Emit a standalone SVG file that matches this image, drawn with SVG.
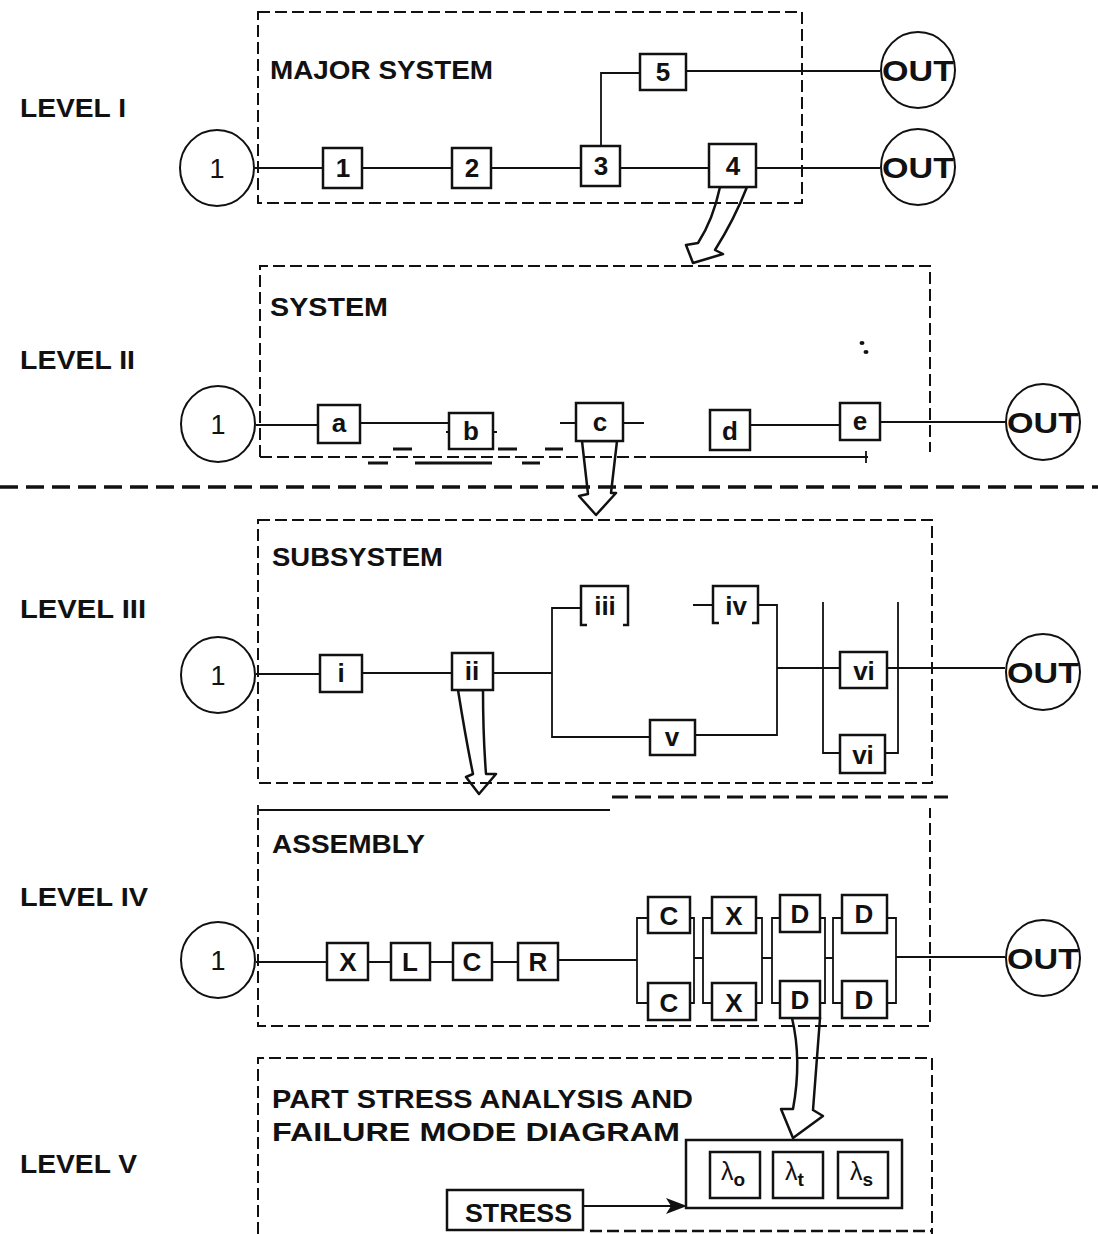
<svg xmlns="http://www.w3.org/2000/svg" width="1098" height="1234" viewBox="0 0 1098 1234">
<defs>
<style>
.t{font-family:"Liberation Sans",Arial,sans-serif;font-weight:bold;fill:#111}
.lvl{font-size:25px}
.ttl{font-size:25px}
.bl{font-size:26px;text-anchor:middle}
.cl{font-family:"Liberation Sans",Arial,sans-serif;font-size:27px;text-anchor:middle;fill:#111}
.out{font-family:"Liberation Sans",Arial,sans-serif;font-weight:bold;font-size:30px;fill:#111}
.box{fill:#fff;stroke:#111;stroke-width:2.5}
.circ{fill:#fff;stroke:#111;stroke-width:2}
.ln{fill:none;stroke:#111;stroke-width:1.8}
.frame{fill:none;stroke:#111;stroke-width:2;stroke-dasharray:12 5}
.arr{fill:#fff;stroke:#111;stroke-width:2.5;stroke-linejoin:round}
.art{stroke:#111;stroke-width:3}
</style>
</defs>
<rect width="1098" height="1234" fill="#fff"/>

<!-- hollow arrows (drawn below frames) -->
<g id="hollow-arrows">
<path class="arr" d="M720,187 Q713,220 698,243 L686,245 L693,263 L723,254 L715,250 Q734,220 747,187 Z"/>
<path class="arr" d="M582,441 L588,494 L579,496 L596,515 L616,493 L611,493 L617,441 Z"/>
<path class="arr" d="M458,690 Q466,740 473,774 L466,777 L479,794 L496,774 L486,774 Q483,735 483,690 Z"/>
<path class="arr" d="M792,1018 Q802,1060 793,1109 L781,1109 L793,1138 L823,1116 L813,1110 Q817,1060 820,1018 Z"/>
</g>

<!-- frames -->
<g id="frames">
<rect class="frame" x="258" y="12" width="544" height="191"/>
<path class="frame" d="M260,457 L260,266 L930,266 L930,452"/>
<path class="frame" d="M260,457 L650,457"/>
<path class="ln" d="M650,457 L868,457 M866,451 L866,463"/>
<path class="art" d="M393,449 H412 M498,449 H517 M545,449 H563 M368,463 H388 M415,463 H492 M522,463 H540"/>
<ellipse cx="862" cy="343" rx="2.5" ry="2" fill="#111"/>
<ellipse cx="866" cy="352" rx="2.5" ry="2" fill="#111"/>
<line x1="0" y1="487" x2="1098" y2="487" stroke="#111" stroke-width="3.5" stroke-dasharray="18 8"/>
<rect class="frame" x="258" y="520" width="674" height="263"/>
<path class="ln" d="M258,810 L610,810 M258,805 L258,815" stroke-width="2.5"/>
<line x1="612" y1="797" x2="948" y2="797" stroke="#111" stroke-width="3" stroke-dasharray="16 7"/>
<path class="frame" d="M258,818 L258,1026 L930,1026 L930,808"/>
<path class="frame" d="M258,1234 L258,1058 L932,1058 L932,1234"/>
<line x1="590" y1="1231" x2="932" y2="1231" stroke="#111" stroke-width="2.5" stroke-dasharray="12 5"/>
</g>

<!-- labels -->
<g id="labels">
<text class="t lvl" x="20" y="117" textLength="106" lengthAdjust="spacingAndGlyphs">LEVEL I</text>
<text class="t lvl" x="20" y="369" textLength="115" lengthAdjust="spacingAndGlyphs">LEVEL II</text>
<text class="t lvl" x="20" y="618" textLength="126" lengthAdjust="spacingAndGlyphs">LEVEL III</text>
<text class="t lvl" x="20" y="906" textLength="128" lengthAdjust="spacingAndGlyphs">LEVEL IV</text>
<text class="t lvl" x="20" y="1173" textLength="117" lengthAdjust="spacingAndGlyphs">LEVEL V</text>
<text class="t ttl" x="270" y="79" textLength="223" lengthAdjust="spacingAndGlyphs">MAJOR SYSTEM</text>
<text class="t ttl" x="270" y="316" textLength="118" lengthAdjust="spacingAndGlyphs">SYSTEM</text>
<text class="t ttl" x="272" y="566" textLength="171" lengthAdjust="spacingAndGlyphs">SUBSYSTEM</text>
<text class="t ttl" x="272" y="853" textLength="153" lengthAdjust="spacingAndGlyphs">ASSEMBLY</text>
<text class="t ttl" x="272" y="1108" textLength="421" lengthAdjust="spacingAndGlyphs">PART STRESS ANALYSIS AND</text>
<text class="t ttl" x="272" y="1141" textLength="408" lengthAdjust="spacingAndGlyphs">FAILURE MODE DIAGRAM</text>
</g>

<!-- connectors -->
<g id="connectors">
<!-- level I -->
<path class="ln" d="M255,168 H323 M362,168 H452 M491,168 H581 M620,168 H709 M756,168 H880"/>
<path class="ln" d="M601,146 V73 H640 M686,71 H880"/>
<!-- level II -->
<path class="ln" d="M256,425 H318 M360,423 H449 M446,432 H449 M493,432 H497 M560,423 H576 M623,423 H644 M750,425 H840 M880,422 H1005"/>
<!-- level III -->
<path class="ln" d="M256,674 H320 M362,673 H452 M493,673 H552"/>
<path class="ln" d="M581,608 H552 V737 H650 M695,735 H777 V605 H758 M693,605 H713"/>
<path class="ln" d="M777,668 H840 M887,668 H1005"/>
<path class="ln" d="M823,602 V753 H840 M898,602 V753 H885"/>
<!-- level IV -->
<path class="ln" d="M256,962 H327 M368,962 H391 M430,962 H453 M492,962 H518 M558,960 H637"/>
<path class="ln" d="M648,918 H637 V1003 H648 M690,918 H694 V1003 H690 M694,958 H703"/>
<path class="ln" d="M712,918 H703 V1003 H712 M756,918 H762 V1003 H756 M762,958 H772"/>
<path class="ln" d="M780,918 H772 V1003 H780 M820,918 H825 V1003 H820 M825,958 H833"/>
<path class="ln" d="M842,918 H833 V1003 H842 M887,918 H896 V1003 H887 M896,957 H1005"/>
<!-- level V -->
<path class="ln" d="M686,1178 H710 M760,1178 H773 M823,1178 H838 M888,1178 H902"/>
<line x1="583" y1="1206" x2="672" y2="1206" stroke="#111" stroke-width="2"/>
<path d="M666,1198 L687,1206 L666,1214 L671,1206 Z" fill="#111"/>
</g>

<!-- level I nodes -->
<g id="L1-in"><ellipse class="circ" cx="217" cy="168" rx="37" ry="38"/><text class="cl" x="217" y="178">1</text></g>
<g id="L1-b1"><rect class="box" x="323" y="148" width="39" height="40"/><text class="t bl" x="343" y="177">1</text></g>
<g id="L1-b2"><rect class="box" x="452" y="148" width="39" height="40"/><text class="t bl" x="472" y="177">2</text></g>
<g id="L1-b3"><rect class="box" x="581" y="146" width="39" height="40"/><text class="t bl" x="601" y="175">3</text></g>
<g id="L1-b4"><rect class="box" x="709" y="144" width="47" height="43"/><text class="t bl" x="733" y="175">4</text></g>
<g id="L1-b5"><rect class="box" x="640" y="54" width="46" height="36"/><text class="t bl" x="663" y="81">5</text></g>
<g id="L1-out1"><ellipse class="circ" cx="918" cy="70" rx="37" ry="38"/><text class="out" x="882" y="81" textLength="72" lengthAdjust="spacingAndGlyphs">OUT</text></g>
<g id="L1-out2"><ellipse class="circ" cx="918" cy="167" rx="37" ry="38"/><text class="out" x="882" y="178" textLength="72" lengthAdjust="spacingAndGlyphs">OUT</text></g>

<!-- level II nodes -->
<g id="L2-in"><ellipse class="circ" cx="218" cy="424" rx="37" ry="38"/><text class="cl" x="218" y="434">1</text></g>
<g id="L2-a"><rect class="box" x="318" y="405" width="42" height="38"/><text class="t bl" x="339" y="432">a</text></g>
<g id="L2-b"><rect class="box" x="449" y="413" width="44" height="36"/><text class="t bl" x="471" y="440">b</text></g>
<g id="L2-c"><rect class="box" x="576" y="403" width="47" height="38"/><text class="t bl" x="600" y="431">c</text></g>
<g id="L2-d"><rect class="box" x="710" y="410" width="40" height="40"/><text class="t bl" x="730" y="440">d</text></g>
<g id="L2-e"><rect class="box" x="840" y="403" width="40" height="37"/><text class="t bl" x="860" y="430">e</text></g>
<g id="L2-out"><ellipse class="circ" cx="1043" cy="422" rx="37" ry="38"/><text class="out" x="1007" y="433" textLength="72" lengthAdjust="spacingAndGlyphs">OUT</text></g>

<!-- level III nodes -->
<g id="L3-in"><ellipse class="circ" cx="218" cy="675" rx="37" ry="38"/><text class="cl" x="218" y="685">1</text></g>
<g id="L3-i"><rect class="box" x="320" y="655" width="42" height="37"/><text class="t bl" x="341" y="682">i</text></g>
<g id="L3-ii"><rect class="box" x="452" y="653" width="41" height="37"/><text class="t bl" x="472" y="680">ii</text></g>
<g id="L3-iii"><path class="box" fill="none" d="M587,625 H581 V586 H628 V625 H623"/><text class="t bl" x="605" y="615">iii</text></g>
<g id="L3-iv"><path class="box" fill="none" d="M719,623 H713 V586 H758 V623 H752"/><text class="t bl" x="736" y="615">iv</text></g>
<g id="L3-v"><rect class="box" x="650" y="720" width="45" height="35"/><text class="t bl" x="672" y="746">v</text></g>
<g id="L3-vi1"><rect class="box" x="840" y="652" width="47" height="36"/><text class="t bl" x="864" y="680">vi</text></g>
<g id="L3-vi2"><rect class="box" x="840" y="735" width="45" height="38"/><text class="t bl" x="863" y="764">vi</text></g>
<g id="L3-out"><ellipse class="circ" cx="1043" cy="672" rx="37" ry="38"/><text class="out" x="1007" y="683" textLength="72" lengthAdjust="spacingAndGlyphs">OUT</text></g>

<!-- level IV nodes -->
<g id="L4-in"><ellipse class="circ" cx="218" cy="960" rx="37" ry="38"/><text class="cl" x="218" y="970">1</text></g>
<g id="L4-X"><rect class="box" x="327" y="943" width="41" height="37"/><text class="t bl" x="348" y="971">X</text></g>
<g id="L4-L"><rect class="box" x="391" y="943" width="39" height="37"/><text class="t bl" x="410" y="971">L</text></g>
<g id="L4-C"><rect class="box" x="453" y="943" width="39" height="37"/><text class="t bl" x="472" y="971">C</text></g>
<g id="L4-R"><rect class="box" x="518" y="943" width="40" height="37"/><text class="t bl" x="538" y="971">R</text></g>
<g id="L4-C1"><rect class="box" x="648" y="897" width="42" height="36"/><text class="t bl" x="669" y="925">C</text></g>
<g id="L4-C2"><rect class="box" x="648" y="983" width="42" height="37"/><text class="t bl" x="669" y="1012">C</text></g>
<g id="L4-X1"><rect class="box" x="712" y="897" width="44" height="36"/><text class="t bl" x="734" y="925">X</text></g>
<g id="L4-X2"><rect class="box" x="712" y="983" width="44" height="37"/><text class="t bl" x="734" y="1012">X</text></g>
<g id="L4-D1"><rect class="box" x="780" y="895" width="40" height="37"/><text class="t bl" x="800" y="923">D</text></g>
<g id="L4-D2"><rect class="box" x="780" y="981" width="40" height="37"/><text class="t bl" x="800" y="1009">D</text></g>
<g id="L4-D3"><rect class="box" x="842" y="895" width="45" height="38"/><text class="t bl" x="864" y="923">D</text></g>
<g id="L4-D4"><rect class="box" x="842" y="981" width="45" height="37"/><text class="t bl" x="864" y="1009">D</text></g>
<g id="L4-out"><ellipse class="circ" cx="1043" cy="958" rx="37" ry="38"/><text class="out" x="1007" y="969" textLength="72" lengthAdjust="spacingAndGlyphs">OUT</text></g>

<!-- level V nodes -->
<g id="L5-part"><rect class="box" x="686" y="1140" width="216" height="68"/></g>
<g id="L5-lo"><rect class="box" x="710" y="1152" width="50" height="46"/><text x="721" y="1180" font-family="Liberation Sans,Arial,sans-serif" font-size="25" fill="#111">λ<tspan font-weight="bold" font-size="19" dy="6">o</tspan></text></g>
<g id="L5-lt"><rect class="box" x="773" y="1152" width="50" height="46"/><text x="785" y="1180" font-family="Liberation Sans,Arial,sans-serif" font-size="25" fill="#111">λ<tspan font-weight="bold" font-size="19" dy="6">t</tspan></text></g>
<g id="L5-ls"><rect class="box" x="838" y="1152" width="50" height="46"/><text x="850" y="1180" font-family="Liberation Sans,Arial,sans-serif" font-size="25" fill="#111">λ<tspan font-weight="bold" font-size="19" dy="6">s</tspan></text></g>
<g id="L5-stress"><rect class="box" x="447" y="1190" width="136" height="40"/><text class="t" x="465" y="1222" font-size="25" textLength="107" lengthAdjust="spacingAndGlyphs">STRESS</text></g>
</svg>
